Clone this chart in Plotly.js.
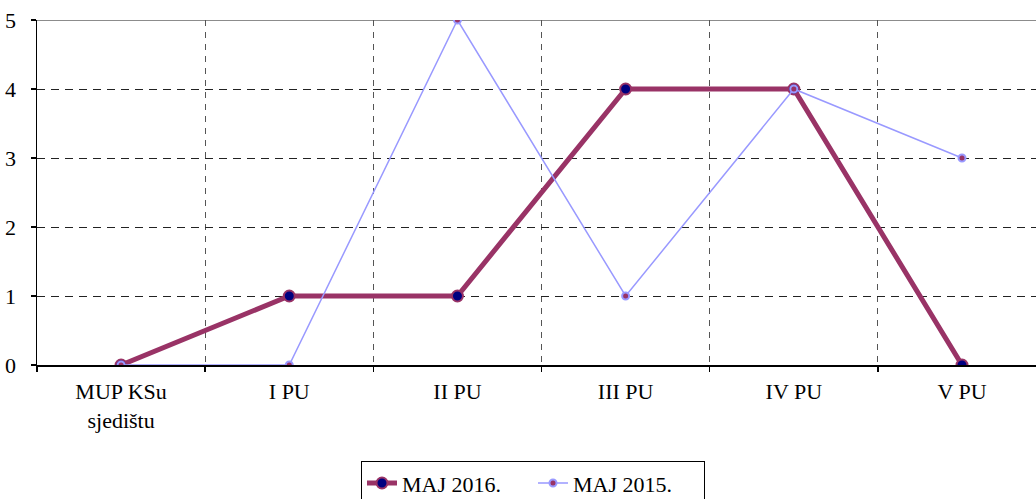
<!DOCTYPE html>
<html>
<head>
<meta charset="utf-8">
<script src="https://cdn.plot.ly/plotly-3.0.1.min.js"></script>
<style>html,body{margin:0;padding:0;background:#fff;overflow:hidden;width:1036px;height:499px}</style>
</head>
<body>
<div id="chart" style="width:1036px;height:530px"></div>
<script>
const categories = ["MUP KSu<br>sjedištu", "I PU", "II PU", "III PU", "IV PU", "V PU"];
const maj2016 = [0, 1, 1, 4, 4, 0];
const maj2015 = [0, 0, 5, 1, 4, 3];
const yTicks = [0, 1, 2, 3, 4, 5];

const fontFam = "Liberation Serif, Times New Roman, serif";

const traces = [
  {
    x: categories, y: maj2016, type: "scatter", mode: "lines+markers",
    name: "MAJ 2016.",
    line: {color: "rgb(153,51,102)", width: 5},
    marker: {color: "#000080", size: 11, line: {color: "rgb(153,51,102)", width: 2}}
  },
  {
    x: categories, y: maj2015, type: "scatter", mode: "lines+markers",
    name: "MAJ 2015.",
    line: {color: "#9999FF", width: 1.5},
    marker: {color: "rgb(153,51,102)", size: 7, line: {color: "#9999FF", width: 2}}
  }
];

const H = 530;
const plotTop = 19.5, plotBottom = 365.5;
const layout = {
  width: 1036, height: H,
  margin: {l: 37, r: 0, t: plotTop, b: H - plotBottom, pad: 0},
  paper_bgcolor: "#fff", plot_bgcolor: "#fff",
  font: {family: fontFam, size: 22, color: "#000"},
  showlegend: true,
  legend: {
    orientation: "h", x: 0.4965, xanchor: "center",
    y: (plotBottom - 462) / (plotBottom - plotTop), yanchor: "top",
    bordercolor: "#000", borderwidth: 1, bgcolor: "#fff",
    font: {family: fontFam, size: 22, color: "#000"},
    itemwidth: 30, entrywidth: 126
  },
  xaxis: {
    type: "category", range: [-0.5, 5.44],
    tickson: "boundaries", ticks: "outside", ticklen: 5, tickwidth: 1.5, tickcolor: "#000",
    showline: true, linecolor: "#000", linewidth: 1.5,
    showgrid: true, gridcolor: "#555", griddash: "6px,6px", gridwidth: 1,
    ticklabelstandoff: 6,
    tickfont: {family: fontFam, size: 22, color: "#000"},
    zeroline: false, fixedrange: true, automargin: false
  },
  yaxis: {
    range: [0, 5], tickvals: yTicks, ticktext: yTicks.map(String),
    ticks: "outside", ticklen: 5, tickwidth: 1.5, tickcolor: "#000",
    showline: true, linecolor: "#000", linewidth: 1.5,
    showgrid: true, gridcolor: "#222", griddash: "8px,6px", gridwidth: 1,
    ticklabelstandoff: 10,
    tickfont: {family: fontFam, size: 22, color: "#000"},
    zeroline: false, fixedrange: true, automargin: false
  },
  shapes: [
    {type: "line", xref: "paper", yref: "y", x0: 0, x1: 1, y0: 5, y1: 5,
     line: {color: "#8c8c8c", width: 2}, layer: "below"}
  ]
};

Plotly.newPlot("chart", traces, layout, {displayModeBar: false, staticPlot: true});
</script>
</body>
</html>
